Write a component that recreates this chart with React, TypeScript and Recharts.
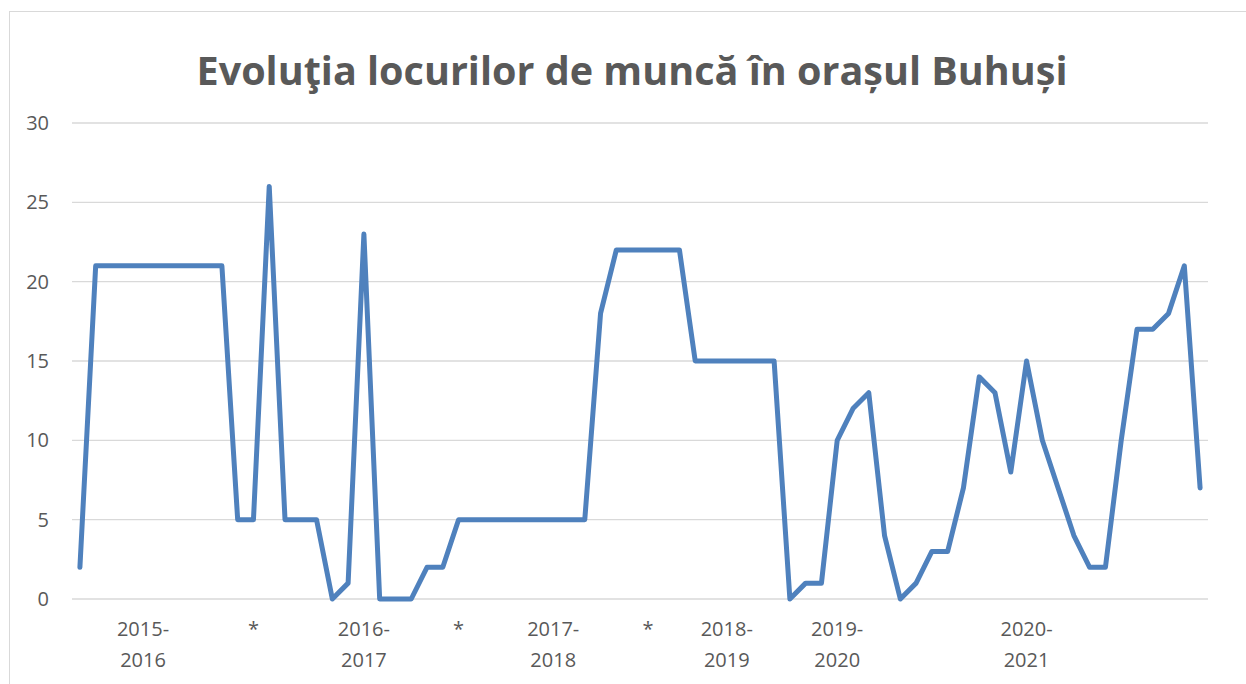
import React from 'react';
import { LineChart, Line, XAxis, YAxis, CartesianGrid } from 'recharts';

const jobValues: number[] = [
  2, 21, 21, 21, 21, 21, 21, 21, 21, 21,
  5, 5, 26, 5, 5, 5, 0, 1, 23, 0,
  0, 0, 2, 2, 5, 5, 5, 5, 5, 5,
  5, 5, 5, 18, 22, 22, 22, 22, 22, 15,
  15, 15, 15, 15, 15, 0, 1, 1, 10, 12,
  13, 4, 0, 1, 3, 3, 7, 14, 13, 8,
  15, 10, 7, 4, 2, 2, 10, 17, 17, 18,
  21, 7,
];

const categoryLabels: string[] = [
  '', '', '', '', '2015-\n2016', '', '', '', '', '',
  '', '*', '', '', '', '', '', '', '2016-\n2017', '',
  '', '', '', '', '*', '', '', '', '', '',
  '2017-\n2018', '', '', '', '', '', '*', '', '', '',
  '', '2018-\n2019', '', '', '', '', '', '', '2019-\n2020', '',
  '', '', '', '', '', '', '', '', '', '',
  '2020-\n2021', '', '', '', '', '', '', '', '', '',
  '', '',
];

const yTicks: number[] = [0, 5, 10, 15, 20, 25, 30];

const TITLE = 'Evoluţia locurilor de muncă în orașul Buhuși';

const data = jobValues.map((v, i) => ({ idx: i, value: v }));

const FONT = '"Open Sans", "Liberation Sans", sans-serif';

const XTick = (props: any) => {
  const { x, y, payload } = props;
  const label = categoryLabels[payload.value] || '';
  if (!label) return null;
  const lines = label.split('\n');
  return (
    <g>
      {lines.map((l: string, k: number) => (
        <text
          key={k}
          x={x}
          y={y + 37 + k * 30.5}
          textAnchor="middle"
          fontSize={20}
          fontFamily={FONT}
          fill="#595959"
        >
          {l}
        </text>
      ))}
    </g>
  );
};

export default function App() {
  const W = 1236;
  const H = 672;
  return (
    <div
      style={{
        position: 'absolute',
        left: 9,
        top: 11,
        width: W,
        height: H,
        borderTop: '1px solid #d9d9d9',
        borderLeft: '1px solid #d9d9d9',
        background: '#fff',
      }}
    >
      <LineChart
        width={W}
        height={H}
        data={data}
        margin={{ top: 111, right: 38, bottom: 5, left: 0 }}
      >
        <text
          x={622}
          y={73}
          textAnchor="middle"
          fontSize={40}
          fontWeight={700}
          fontFamily={FONT}
          fill="#595959"
          textLength={871}
          lengthAdjust="spacingAndGlyphs"
        >
          {TITLE}
        </text>
        <CartesianGrid vertical={false} stroke="#d9d9d9" strokeWidth={1.3} />
        <XAxis
          dataKey="idx"
          type="category"
          interval={0}
          axisLine={false}
          tickLine={false}
          tickSize={0}
          tickMargin={0}
          height={80}
          padding={{ left: 7.9, right: 7.9 }}
          tick={<XTick />}
        />
        <YAxis
          domain={[0, 30]}
          ticks={yTicks}
          width={62}
          axisLine={false}
          tickLine={false}
          tickSize={0}
          tickMargin={23}
          tick={{ fontSize: 20, fontFamily: FONT, fill: '#595959' }}
        />
        <Line
          type="linear"
          dataKey="value"
          stroke="#4F81BD"
          strokeWidth={5}
          dot={false}
          strokeLinejoin="round"
          strokeLinecap="round"
          isAnimationActive={false}
        />
      </LineChart>
    </div>
  );
}
